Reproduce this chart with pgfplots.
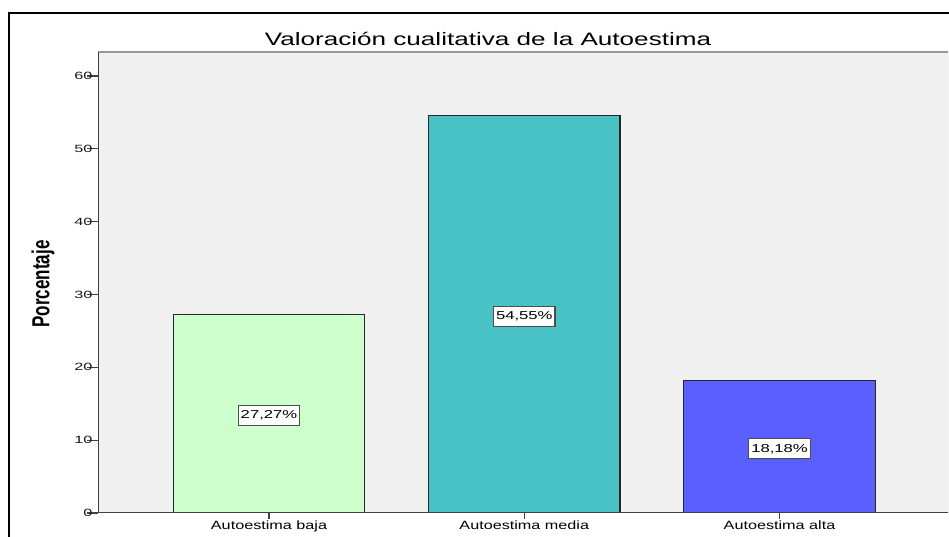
\documentclass[border=0pt]{standalone}
\usepackage{fontspec}
\setmainfont{Liberation Sans}
\usepackage{pgfplots}
\pgfplotsset{compat=1.18}
\definecolor{bgray}{RGB}{240,240,240}
\definecolor{cgreen}{RGB}{204,255,204}
\definecolor{cteal}{RGB}{72,194,197}
\definecolor{cblue}{RGB}{91,95,255}
\newcommand{\sx}[1]{\scalebox{1.45}[1]{#1}}
\newcommand{\sxl}[1]{\scalebox{1.35}[1]{#1}}
\begin{document}
\begin{tikzpicture}[x=1pt,y=1pt]
\useasboundingbox (0,0) rectangle (949,537);
\fill[white] (0,0) rectangle (949,537);
\draw[line width=2.5pt,black] (9,-20) -- (9,524) -- (990,524);
\node[anchor=base] at (488,491) {\fontsize{18}{18}\selectfont\sx{Valoración cualitativa de la Autoestima}};
\node[rotate=90] at (43,253) {\scalebox{1}[1.45]{\fontsize{17}{17}\selectfont\bfseries Porcentaje}};
\begin{axis}[
  at={(98pt,24pt)}, anchor=south west,
  width=850pt, height=461pt, scale only axis,
  xmin=-0.67, xmax=2.66, ymin=0, ymax=63.3,
  axis background/.style={fill=bgray},
  axis line style={draw=none},
  tick align=outside,
  xtick pos=bottom, ytick pos=left,
  tick style={draw=black!75, line width=1.1pt},
  ytick style={/pgfplots/major tick length=11pt},
  xtick style={/pgfplots/major tick length=6pt},
  ytick={0,10,20,30,40,50,60},
  yticklabel={\scalebox{1.55}[1]{\pgfmathprintnumber{\tick}}},
  yticklabel style={font=\fontsize{10.5}{10.5}\selectfont, text=black!90, inner sep=1pt},
  xtick={0,1,2},
  xticklabels={\sxl{Autoestima baja},\sxl{Autoestima media},\sxl{Autoestima alta}},
  xticklabel style={font=\fontsize{12}{12}\selectfont, text=black},
  /pgf/number format/assume math mode=true,
  every node near coord/.style={draw=black!70, fill=white, line width=1.3pt, anchor=center,
    font=\fontsize{11.5}{11.5}\selectfont, text=black, inner xsep=2.5pt, inner ysep=0pt,
    minimum height=20pt, yshift=-2pt},
]
\addplot[ybar, bar width=0.75, bar shift=0pt, fill=cgreen, draw=black!85, line width=1.2pt] coordinates {(0,27.27)};
\addplot[ybar, bar width=0.75, bar shift=0pt, fill=cteal, draw=black!85, line width=1.2pt] coordinates {(1,54.55)};
\addplot[ybar, bar width=0.75, bar shift=0pt, fill=cblue, draw=black!85, line width=1.2pt] coordinates {(2,18.18)};
\addplot[only marks, mark=none, nodes near coords={\sx{27,27\%}}] coordinates {(0,13.635)};
\addplot[only marks, mark=none, nodes near coords={\sx{54,55\%}}] coordinates {(1,27.275)};
\addplot[only marks, mark=none, nodes near coords={\sx{18,18\%}}] coordinates {(2,9.09)};
\draw[black!40, line width=2pt] (rel axis cs:0,1) -- (rel axis cs:1,1);
\draw[black!25, line width=1pt] (rel axis cs:1,0) -- (rel axis cs:1,1);
\draw[black!75, line width=1.3pt] (rel axis cs:0,1) -- (rel axis cs:0,0) -- (rel axis cs:1,0);
\end{axis}
\end{tikzpicture}
\end{document}
